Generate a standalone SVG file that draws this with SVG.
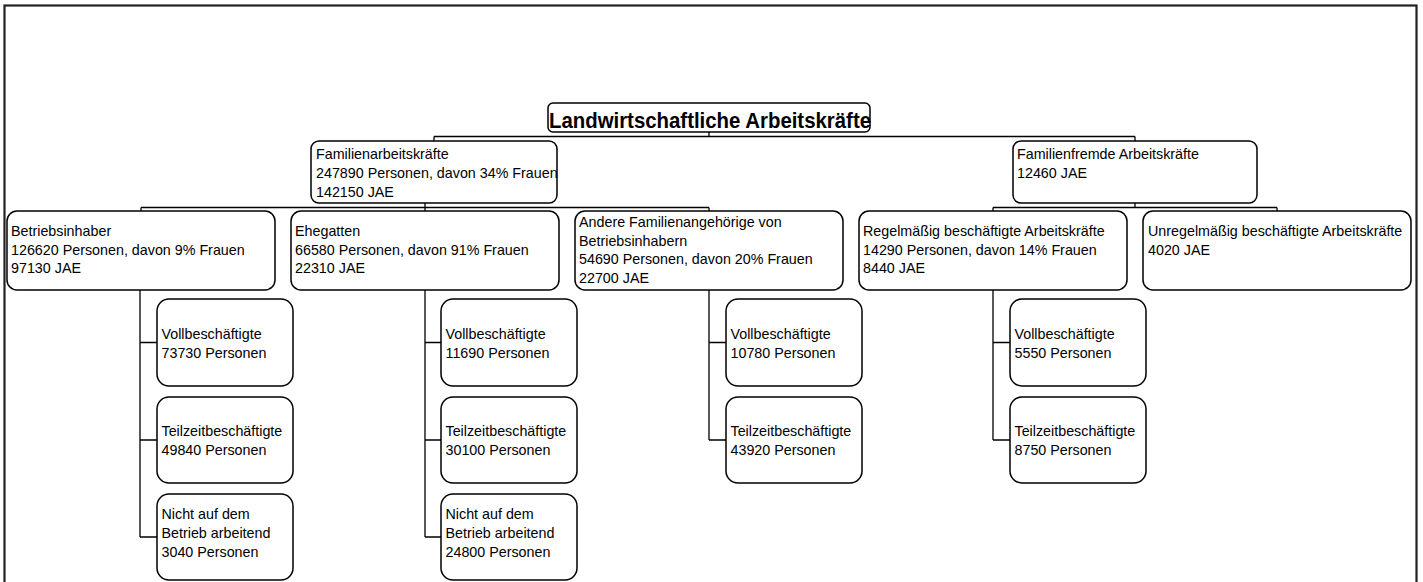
<svg xmlns="http://www.w3.org/2000/svg" width="1423" height="582" viewBox="0 0 1423 582">
<style>
  .box { fill: #ffffff; stroke: #000000; stroke-width: 1.5; }
  .t { font-family: "Liberation Sans", Arial, sans-serif; font-size: 14.3px; fill: #000000; }
  .title { font-family: "Liberation Sans", Arial, sans-serif; font-size: 22px; font-weight: bold; fill: #000000; }
  .conn { fill: none; stroke: #000000; stroke-width: 1.3; }
  .frame { fill: none; stroke: #222222; stroke-width: 2.2; }
</style>
<rect x="0" y="0" width="1423" height="582" fill="#ffffff"/>
<rect class="frame" x="4.5" y="5.5" width="1412" height="600"/>

<g id="connectors">
  <path class="conn" d="M709,132 V136.5 M434,136.5 H1135 M434,136.5 V141 M1135,136.5 V141"/>
  <path class="conn" d="M425,203 V207.5 M141,207.5 H709 M141,207.5 V211 M425,207.5 V211 M709,207.5 V211"/>
  <path class="conn" d="M1135,203 V207.5 M993,207.5 H1277 M993,207.5 V211 M1277,207.5 V211"/>
  <path class="conn" d="M140,290 V537 M140,342.5 H157 M140,440 H157 M140,537 H157"/>
  <path class="conn" d="M425,290 V537 M425,342.5 H441 M425,440 H441 M425,537 H441"/>
  <path class="conn" d="M709,290 V440 M709,342.5 H726 M709,440 H726"/>
  <path class="conn" d="M993,290 V440 M993,342.5 H1010 M993,440 H1010"/>
</g>

<g id="root">
  <rect class="box" x="548" y="103" width="322" height="29" rx="5"/>
  <text class="title" x="549" y="127.5" textLength="322" lengthAdjust="spacingAndGlyphs">Landwirtschaftliche Arbeitskräfte</text>
</g>

<g id="familienarbeitskraefte">
  <rect class="box" x="311" y="141" width="246" height="62" rx="8"/>
  <text class="t" x="316" y="159">Familienarbeitskräfte</text>
  <text class="t" x="316" y="178">247890 Personen, davon 34% Frauen</text>
  <text class="t" x="316" y="197">142150 JAE</text>
</g>

<g id="familienfremde">
  <rect class="box" x="1013" y="141" width="244" height="62" rx="8"/>
  <text class="t" x="1017" y="159">Familienfremde Arbeitskräfte</text>
  <text class="t" x="1017" y="178">12460 JAE</text>
</g>

<g id="betriebsinhaber">
  <rect class="box" x="7" y="211" width="268" height="79" rx="10"/>
  <text class="t" x="11" y="236">Betriebsinhaber</text>
  <text class="t" x="11" y="255">126620 Personen, davon 9% Frauen</text>
  <text class="t" x="11" y="273">97130 JAE</text>
</g>

<g id="ehegatten">
  <rect class="box" x="291" y="211" width="268" height="79" rx="10"/>
  <text class="t" x="295" y="236">Ehegatten</text>
  <text class="t" x="295" y="255">66580 Personen, davon 91% Frauen</text>
  <text class="t" x="295" y="273">22310 JAE</text>
</g>

<g id="andere">
  <rect class="box" x="575" y="211" width="268" height="79" rx="10"/>
  <text class="t" x="579" y="227">Andere Familienangehörige von</text>
  <text class="t" x="579" y="246">Betriebsinhabern</text>
  <text class="t" x="579" y="264">54690 Personen, davon 20% Frauen</text>
  <text class="t" x="579" y="283">22700 JAE</text>
</g>

<g id="regelmaessig">
  <rect class="box" x="859" y="211" width="268" height="79" rx="10"/>
  <text class="t" x="863" y="236">Regelmäßig beschäftigte Arbeitskräfte</text>
  <text class="t" x="863" y="255">14290 Personen, davon 14% Frauen</text>
  <text class="t" x="863" y="273">8440 JAE</text>
</g>

<g id="unregelmaessig">
  <rect class="box" x="1143" y="211" width="268" height="79" rx="10"/>
  <text class="t" x="1148" y="236">Unregelmäßig beschäftigte Arbeitskräfte</text>
  <text class="t" x="1148" y="255">4020 JAE</text>
</g>

<g id="betrieb-voll">
  <rect class="box" x="157" y="299" width="136" height="87" rx="12"/>
  <text class="t" x="161.5" y="339">Vollbeschäftigte</text>
  <text class="t" x="161.5" y="358">73730 Personen</text>
</g>
<g id="betrieb-teil">
  <rect class="box" x="157" y="397" width="136" height="86" rx="12"/>
  <text class="t" x="161.5" y="436">Teilzeitbeschäftigte</text>
  <text class="t" x="161.5" y="455">49840 Personen</text>
</g>
<g id="betrieb-nicht">
  <rect class="box" x="157" y="494" width="136" height="86" rx="12"/>
  <text class="t" x="161.5" y="519">Nicht auf dem</text>
  <text class="t" x="161.5" y="538">Betrieb arbeitend</text>
  <text class="t" x="161.5" y="557">3040 Personen</text>
</g>

<g id="ehegatten-voll">
  <rect class="box" x="441" y="299" width="136" height="87" rx="12"/>
  <text class="t" x="445.5" y="339">Vollbeschäftigte</text>
  <text class="t" x="445.5" y="358">11690 Personen</text>
</g>
<g id="ehegatten-teil">
  <rect class="box" x="441" y="397" width="136" height="86" rx="12"/>
  <text class="t" x="445.5" y="436">Teilzeitbeschäftigte</text>
  <text class="t" x="445.5" y="455">30100 Personen</text>
</g>
<g id="ehegatten-nicht">
  <rect class="box" x="441" y="494" width="136" height="86" rx="12"/>
  <text class="t" x="445.5" y="519">Nicht auf dem</text>
  <text class="t" x="445.5" y="538">Betrieb arbeitend</text>
  <text class="t" x="445.5" y="557">24800 Personen</text>
</g>

<g id="andere-voll">
  <rect class="box" x="726" y="299" width="136" height="87" rx="12"/>
  <text class="t" x="730.5" y="339">Vollbeschäftigte</text>
  <text class="t" x="730.5" y="358">10780 Personen</text>
</g>
<g id="andere-teil">
  <rect class="box" x="726" y="397" width="136" height="86" rx="12"/>
  <text class="t" x="730.5" y="436">Teilzeitbeschäftigte</text>
  <text class="t" x="730.5" y="455">43920 Personen</text>
</g>

<g id="regel-voll">
  <rect class="box" x="1010" y="299" width="136" height="87" rx="12"/>
  <text class="t" x="1014.5" y="339">Vollbeschäftigte</text>
  <text class="t" x="1014.5" y="358">5550 Personen</text>
</g>
<g id="regel-teil">
  <rect class="box" x="1010" y="397" width="136" height="86" rx="12"/>
  <text class="t" x="1014.5" y="436">Teilzeitbeschäftigte</text>
  <text class="t" x="1014.5" y="455">8750 Personen</text>
</g>
</svg>
